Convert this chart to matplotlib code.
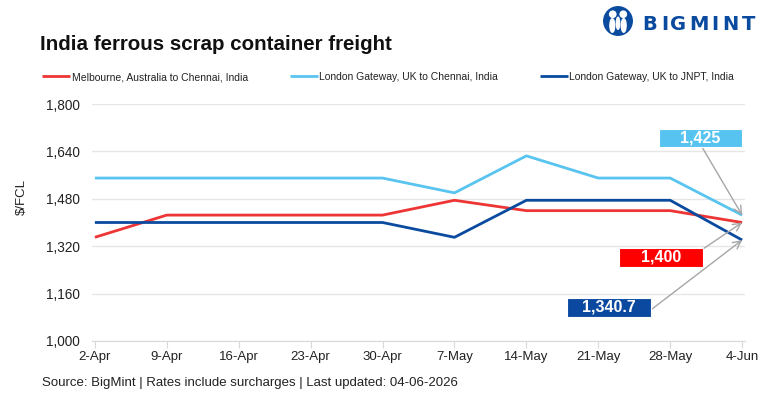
import matplotlib
matplotlib.use("Agg")
import matplotlib.pyplot as plt
from matplotlib import font_manager
from matplotlib.patches import Circle, Ellipse, Rectangle

# data
dates = ["2-Apr", "9-Apr", "16-Apr", "23-Apr", "30-Apr", "7-May", "14-May", "21-May", "28-May", "4-Jun"]
melbourne_chennai = [1350, 1425, 1425, 1425, 1425, 1475, 1440, 1440, 1440, 1400]
london_chennai = [1550, 1550, 1550, 1550, 1550, 1500, 1625, 1550, 1550, 1425]
london_jnpt = [1400, 1400, 1400, 1400, 1400, 1350, 1475, 1475, 1475, 1340.7]
series_names = ["Melbourne, Australia to Chennai, India",
                "London Gateway, UK to Chennai, India",
                "London Gateway, UK to JNPT, India"]
yticks = [1000, 1160, 1320, 1480, 1640, 1800]
last_labels = ["1,400", "1,425", "1,340.7"]

RED = "#EE3535"
LIGHT = "#58C4EF"
DARK = "#0A4A9F"
BOX_RED = "#FF0000"
BOX_LIGHT = "#56C3F0"
BOX_DARK = "#0B49A0"

names = {f.name for f in font_manager.fontManager.ttflist}
FONT = "Liberation Sans Narrow" if "Liberation Sans Narrow" in names else "Liberation Sans"
narrow = FONT == "Liberation Sans Narrow"
plt.rcParams["font.family"] = [FONT, "DejaVu Sans"]

W, H = 773, 405
fig = plt.figure(figsize=(7.73, 4.05), dpi=100)
ax = fig.add_axes([92 / W, 1 - 341 / H, (745 - 92) / W, (341 - 104) / H])

x = list(range(len(dates)))
colors = [RED, LIGHT, DARK]
for vals, c, name in zip([melbourne_chennai, london_chennai, london_jnpt], colors, series_names):
    ax.plot(x, vals, color=c, lw=2.0, label=name, solid_capstyle="butt")

ax.set_ylim(1000, 1800)
ax.set_xlim(-0.04, len(dates) - 1 + 0.04)
ax.set_yticks(yticks)
ax.set_yticklabels([f"{v:,}" for v in yticks])
ax.set_xticks(x)
ax.set_xticklabels(dates)
ax.grid(axis="y", color="#E6E6E6", lw=1)
ax.set_axisbelow(True)
for s in ["top", "right", "left"]:
    ax.spines[s].set_visible(False)
ax.spines["bottom"].set_color("#D9D9D9")
ax.tick_params(axis="y", length=0, pad=9, labelsize=11.5 if narrow else 9.8, labelcolor="#222222")
ax.tick_params(axis="x", length=5, color="#D9D9D9", pad=2, labelsize=11 if narrow else 9.5,
               labelcolor="#222222")

fig.text(22 / W, 1 - 197 / H, "$/FCL", rotation=90, ha="center", va="center",
         fontsize=11 if narrow else 9.5, color="#222222")

# title
fig.text(40 / W, 1 - 44 / H, "India ferrous scrap container freight", fontsize=14.8,
         fontweight="bold", family=["Liberation Sans", "DejaVu Sans"], ha="left", va="center",
         color="#111111")

# legend
leg = fig.legend(loc="center left", bbox_to_anchor=(38 / W, 1 - 77 / H), ncol=3, frameon=False,
                 fontsize=8.6 if narrow else 7.5, handlelength=2.7, handletextpad=0.15,
                 columnspacing=4.0, borderaxespad=0)
for t in leg.get_texts():
    t.set_color("#222222")

# callouts for the last values: box (left, top, right, bottom) in pixels, arrow start
last = len(dates) - 1
callouts = [
    (melbourne_chennai[-1], last_labels[0], BOX_RED, (619, 248, 703, 267), (703, 249)),
    (london_chennai[-1], last_labels[1], BOX_LIGHT, (659, 129, 742, 147), (702, 147)),
    (london_jnpt[-1], last_labels[2], BOX_DARK, (567, 298, 651, 317), (652, 309)),
]
for val, lab, col, (l, t, r, b), (sx, sy) in callouts:
    ax.annotate("", xy=(last, val), xycoords="data",
                xytext=(sx / W, 1 - sy / H), textcoords="figure fraction",
                arrowprops=dict(arrowstyle="->", color="#A6A6A6", lw=1.0, mutation_scale=14,
                                shrinkA=0, shrinkB=0))
    fig.patches.append(Rectangle((l / W, 1 - b / H), (r - l) / W, (b - t) / H,
                                 transform=fig.transFigure, fc=col, ec="white", lw=0.8, zorder=5))
    fig.text((l + r) / 2 / W, 1 - (t + b) / 2 / H, lab, ha="center", va="center", color="white",
             fontsize=11.5, fontweight="bold", zorder=6)

# source
fig.text(42 / W, 1 - 383 / H, "Source: BigMint | Rates include surcharges | Last updated: 04-06-2026",
         ha="left", va="center", fontsize=10.3 if narrow else 9.5, color="#222222")

# logo
lax = fig.add_axes([603 / W, 1 - 36 / H, 30 / W, 30 / H])
lax.set_xlim(-1, 1)
lax.set_ylim(-1, 1)
lax.set_aspect("equal")
lax.axis("off")
lax.add_patch(Circle((0, 0), 0.95, color=DARK))
lax.add_patch(Ellipse((-0.35, 0.45), 0.42, 0.42, color="white"))
lax.add_patch(Ellipse((0.35, 0.45), 0.42, 0.42, color="white"))
lax.add_patch(Ellipse((-0.38, -0.3), 0.32, 0.9, color="white"))
lax.add_patch(Ellipse((0.38, -0.3), 0.32, 0.9, color="white"))
lax.add_patch(Ellipse((0, -0.15), 0.22, 0.8, color="white"))
for i, ch in enumerate("BIGMINT"):
    step = [0, 19, 28, 47, 69, 80, 100][i]
    fig.text((642 + step) / W, 1 - 25 / H, ch, ha="left", va="center", fontsize=14,
             fontweight="bold", family=["DejaVu Sans"], color=DARK)

fig.savefig("out.png", dpi=100)
